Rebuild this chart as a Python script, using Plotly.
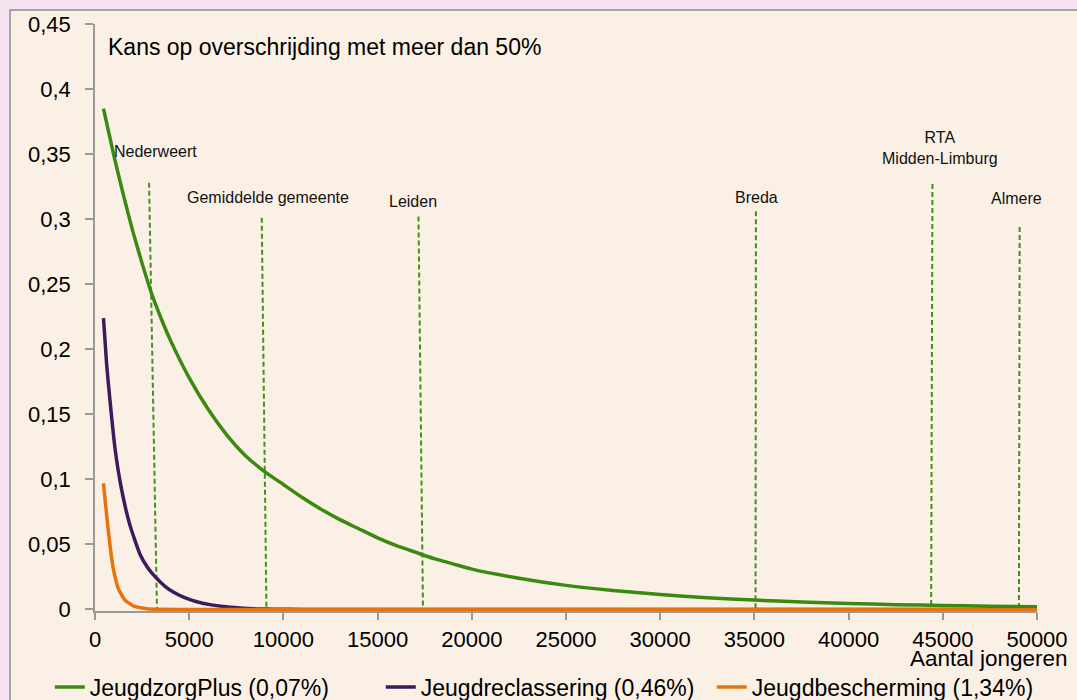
import plotly.graph_objects as go

# ---------------- data ----------------
green_x = [450, 1000, 1500, 2000, 2500, 3000, 3500, 4000, 5000, 6000, 7000, 8000, 9000,
           10000, 11000, 12000, 13000, 14000, 15000, 16000, 17000, 18000, 19000, 20000,
           22500, 25000, 27500, 30000, 32500, 35000, 37500, 40000, 42500, 45000, 47500, 50000]
green_y = [0.385, 0.349, 0.319, 0.291, 0.266, 0.243, 0.224, 0.207, 0.178, 0.154, 0.134, 0.118, 0.106,
           0.096, 0.086, 0.077, 0.069, 0.062, 0.055, 0.049, 0.044, 0.039, 0.035, 0.031,
           0.024, 0.0185, 0.0145, 0.0115, 0.009, 0.0072, 0.0057, 0.0046, 0.0037, 0.0030, 0.0025, 0.0020]

purple_x = [450, 620, 800, 1060, 1400, 1850, 2400, 2800, 3200, 3700, 4200, 4800, 5400, 6100,
            6800, 7700, 8500, 9500, 11000, 20000, 30000, 40000, 50000]
purple_y = [0.224, 0.188, 0.160, 0.124, 0.093, 0.065, 0.042, 0.032, 0.025, 0.018, 0.013, 0.0088,
            0.0059, 0.0037, 0.0022, 0.0011, 0.0005, 0.0002, 0.0, 0.0, 0.0, 0.0, 0.0]

orange_x = [450, 620, 800, 970, 1240, 1590, 2030, 2740, 3500, 5000, 10000, 20000, 30000, 40000, 50000]
orange_y = [0.097, 0.072, 0.049, 0.0315, 0.016, 0.0072, 0.0028, 0.0006, 0.0001, 0.0, 0.0, 0.0, 0.0, 0.0, 0.0]

series_names = ["JeugdzorgPlus (0,07%)", "Jeugdreclassering (0,46%)", "Jeugdbescherming (1,34%)"]

ref_names = ["Nederweert", "Gemiddelde gemeente", "Leiden", "Breda", "RTA<br>Midden-Limburg", "Almere"]
ref_x_top = [2870, 8850, 17170, 35080, 44450, 49080]
ref_x_bottom = [3290, 9100, 17410, 35060, 44380, 49040]
ref_y_top = [0.328, 0.301, 0.302, 0.306, 0.327, 0.294]

x_ticks = [0, 5000, 10000, 15000, 20000, 25000, 30000, 35000, 40000, 45000, 50000]
y_ticks = [0, 0.05, 0.1, 0.15, 0.2, 0.25, 0.3, 0.35, 0.4, 0.45]

title_text = "Kans op overschrijding met meer dan 50%"
x_title = "Aantal jongeren"

# ---------------- style ----------------
FONT = "Liberation Sans, Arial, sans-serif"
GREEN = "#3A8A10"
PURPLE = "#3E1A5C"
ORANGE = "#E8730C"
DASH_GREEN = "#3F9414"
PINK = "#F6E4F0"
LINEN = "#FBF0E5"
AXIS = "#999999"
label_offsets = [(6, 31), (6, 20), (-5, 15), (1, 14), (8, 36), (-3, 28)]

fig = go.Figure()

for name, xt, xb, yt in zip(ref_names, ref_x_top, ref_x_bottom, ref_y_top):
    fig.add_trace(go.Scatter(
        x=[xt, xb], y=[yt, 0], mode="lines", showlegend=False, hoverinfo="skip",
        line=dict(color=DASH_GREEN, width=2, dash="5px,3px")))

for xs, ys, nm, col in [(green_x, green_y, series_names[0], GREEN),
                        (purple_x, purple_y, series_names[1], PURPLE),
                        (orange_x, orange_y, series_names[2], ORANGE)]:
    fig.add_trace(go.Scatter(x=xs, y=ys, mode="lines", name=nm,
                             line=dict(color=col, width=3.5, shape="spline", smoothing=0.5)))

annotations = []
for name, xt, yt, (dx, dy) in zip(ref_names, ref_x_top, ref_y_top, label_offsets):
    annotations.append(dict(x=xt, y=yt, xref="x", yref="y", text=name, showarrow=False,
                            xanchor="center", yanchor="middle", xshift=dx, yshift=dy,
                            font=dict(size=16, color="#111111", family=FONT)))
annotations.append(dict(x=0.0117, y=0.9608, xref="paper", yref="paper", text=title_text,
                        showarrow=False, xanchor="left", yanchor="middle",
                        font=dict(size=23, color="#000000", family=FONT)))
annotations.append(dict(x=1.035, y=-0.081, xref="paper", yref="paper", text=x_title,
                        showarrow=False, xanchor="right", yanchor="middle",
                        font=dict(size=22.5, color="#000000", family=FONT)))

fig.update_layout(
    width=1077, height=700,
    margin=dict(l=95, r=40, t=24, b=89, autoexpand=False),
    paper_bgcolor=PINK, plot_bgcolor=LINEN,
    separators=",.",
    font=dict(family=FONT, size=22, color="#000000"),
    showlegend=True,
    legend=dict(orientation="h", x=-0.048, xanchor="left", y=-0.1295, yanchor="middle",
                bgcolor="rgba(0,0,0,0)", font=dict(size=23, family=FONT),
                entrywidth=286, entrywidthmode="pixels", traceorder="normal"),
    annotations=annotations,
    shapes=[dict(type="rect", xref="paper", yref="paper", x0=-0.0902, x1=1.2, y0=-0.3, y1=1.0239,
                 fillcolor=LINEN, line=dict(color="#8C8C8C", width=1.5), layer="below")],
    xaxis=dict(range=[0, 50000], tickvals=x_ticks, tickformat="d", showgrid=False, zeroline=False,
               showline=True, linecolor=AXIS, linewidth=1.5, ticks="outside", ticklen=7,
               tickcolor=AXIS, tickwidth=1.5, ticklabelstandoff=1,
               tickfont=dict(size=22, family=FONT, color="#000000")),
    yaxis=dict(range=[-0.0012, 0.45], tickvals=y_ticks, showgrid=False, zeroline=False,
               showline=True, linecolor=AXIS, linewidth=1.5, ticks="outside", ticklen=8,
               tickcolor=AXIS, tickwidth=1.5, ticklabelstandoff=10,
               tickfont=dict(size=22, family=FONT, color="#000000")),
)

fig.write_html("out.html", config={"displayModeBar": False},
               post_script="document.body.style.margin='0px';document.body.style.background='#F6E4F0';")
